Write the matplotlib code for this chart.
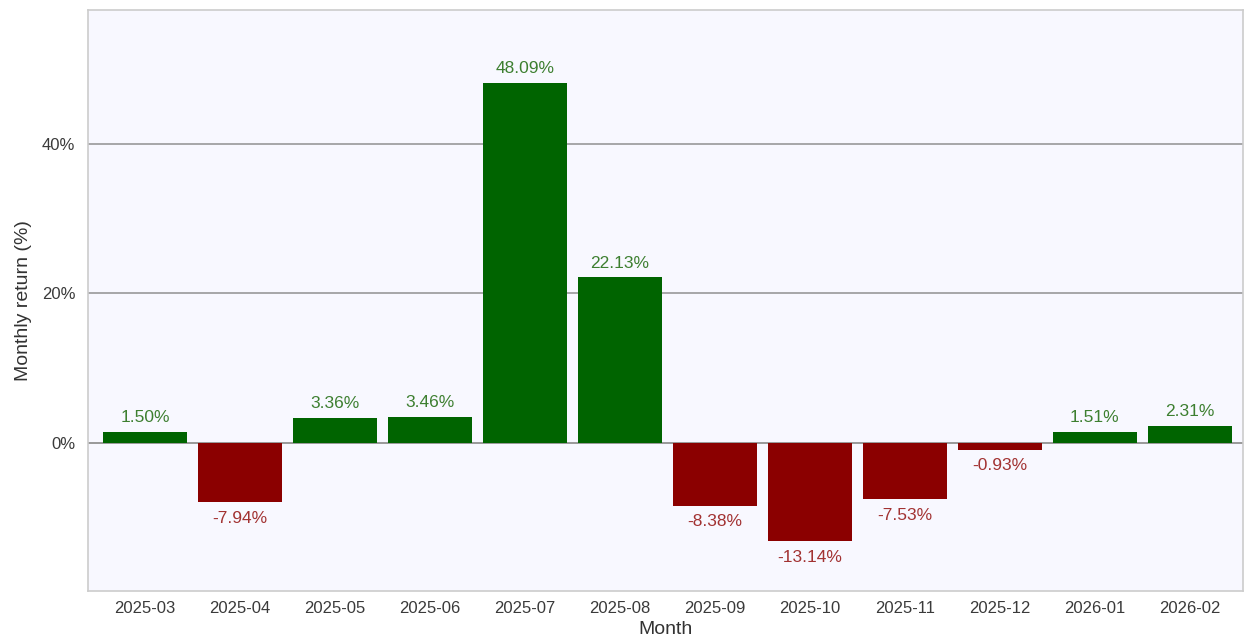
import matplotlib
matplotlib.use("Agg")
import matplotlib.pyplot as plt
from matplotlib.ticker import FuncFormatter

months = ["2025-03", "2025-04", "2025-05", "2025-06", "2025-07", "2025-08",
          "2025-09", "2025-10", "2025-11", "2025-12", "2026-01", "2026-02"]
returns = [1.50, -7.94, 3.36, 3.46, 48.09, 22.13, -8.38, -13.14, -7.53, -0.93, 1.51, 2.31]
yticks = [0, 20, 40]

plt.rcParams['font.family'] = ['Liberation Sans', 'DejaVu Sans']

fig = plt.figure(figsize=(12.47, 6.39), dpi=100)
ax = fig.add_axes([88/1247, 1-591/639, (1243-88)/1247, (591-10)/639])
ax.set_facecolor('#F8F8FF')

pos_c, neg_c = '#006400', '#8B0000'
x = list(range(len(months)))
colors = [pos_c if v >= 0 else neg_c for v in returns]
ax.bar(x, returns, width=0.89, color=colors, zorder=3)

for xi, v in zip(x, returns):
    if v >= 0:
        ax.annotate(f"{v:.2f}%", (xi, v), xytext=(0, 5), textcoords='offset points',
                    ha='center', va='bottom', color='#3d7f30', fontsize=12.5)
    else:
        ax.annotate(f"{v:.2f}%", (xi, v), xytext=(0, -6), textcoords='offset points',
                    ha='center', va='top', color='#a23232', fontsize=12.5)

ax.set_xlim(-0.6, 11.56)
ax.set_ylim(-19.8, 57.9)
ax.set_yticks(yticks)
ax.yaxis.set_major_formatter(FuncFormatter(lambda v, p: f"{v:.0f}%"))
ax.set_xticks(x)
ax.set_xticklabels(months)
ax.tick_params(axis='both', length=0, labelsize=12, colors='#3a3a3a')
ax.tick_params(axis='x', pad=7)
ax.tick_params(axis='y', pad=9)
ax.grid(axis='y', color='#999999', linewidth=1.2, zorder=1)
ax.axhline(0, color='#999999', linewidth=1.2, zorder=2)
for s in ax.spines.values():
    s.set_color('#cccccc')
    s.set_linewidth(1.2)
ax.set_xlabel('Month', fontsize=14, color='#333333', labelpad=4)
ax.set_ylabel('Monthly return (%)', fontsize=14, color='#333333', labelpad=7)

fig.savefig('out.png', dpi=100, facecolor='white')
